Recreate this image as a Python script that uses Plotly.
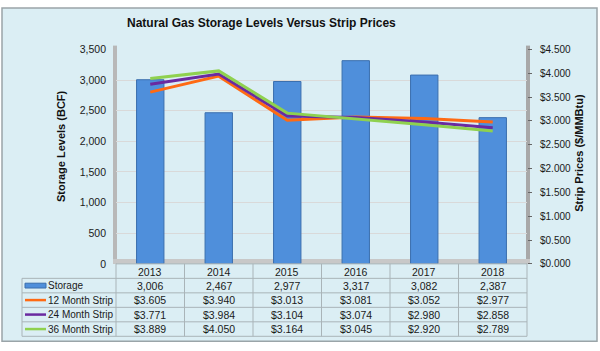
import plotly.graph_objects as go

years = ["2013", "2014", "2015", "2016", "2017", "2018"]
storage = [3006, 2467, 2977, 3317, 3082, 2387]
strip12 = [3.605, 3.940, 3.013, 3.081, 3.052, 2.977]
strip24 = [3.771, 3.984, 3.104, 3.074, 2.980, 2.858]
strip36 = [3.889, 4.050, 3.164, 3.045, 2.920, 2.789]
series_names = ["12 Month Strip", "24 Month Strip", "36 Month Strip"]
series_colors = ["#ff6a13", "#6a2aa0", "#8fd14f"]
left_ticks = [0, 500, 1000, 1500, 2000, 2500, 3000, 3500]
right_ticks = [0, 0.5, 1, 1.5, 2, 2.5, 3, 3.5, 4, 4.5]

W, H = 600, 351
BG = "#dbeef4"
GRID = "#a9b4b8"
FONT = "Liberation Sans, Arial"

def py(pix):  # pixel y from top -> paper y
    return 1 - pix / H

def px(pix):
    return pix / W

x0, x1 = 116, 527
ytop, ybot = 45, 267

fig = go.Figure()
fig.add_trace(go.Bar(
    x=years, y=storage, name="Storage", width=0.4,
    marker=dict(color="#4f8fdb", line=dict(color="#3b6fae", width=1)),
    yaxis="y"))
for vals, nm, col in zip([strip12, strip24, strip36], series_names, series_colors):
    fig.add_trace(go.Scatter(x=years, y=vals, name=nm, mode="lines",
                             line=dict(color=col, width=3), yaxis="y2"))

shapes = []
annotations = []
# outer border
shapes.append(dict(type="rect", xref="paper", yref="paper", x0=px(2), x1=px(597),
                   y0=py(347), y1=py(2), line=dict(color="#9aa4a8", width=1.5), fillcolor=BG, layer="below"))
# plot walls (3D look)
shapes.append(dict(type="rect", xref="paper", yref="paper", x0=px(x0 - 3), x1=px(x0 + 1),
                   y0=py(ybot), y1=py(ytop - 4), line=dict(width=0), fillcolor="#b8b8b8", layer="below"))
shapes.append(dict(type="rect", xref="paper", yref="paper", x0=px(x1 - 1), x1=px(x1 + 3),
                   y0=py(ybot), y1=py(ytop - 4), line=dict(width=0), fillcolor="#a8a8a8", layer="below"))
shapes.append(dict(type="rect", xref="paper", yref="paper", x0=px(x0 - 3), x1=px(x1 + 3),
                   y0=py(ybot), y1=py(ybot - 5), line=dict(width=0), fillcolor="#c8c8c8", layer="below"))

# data table
row_tops = [267, 282, 297, 312, 327, 342]
tab_left = 22
col_edges = [x0 + i * (x1 - x0) / 6 for i in range(7)]
for i, yt in enumerate(row_tops):
    lx = tab_left if i >= 1 else x0
    shapes.append(dict(type="line", xref="paper", yref="paper", x0=px(lx), x1=px(x1),
                       y0=py(yt), y1=py(yt), line=dict(color=GRID, width=1)))
for ce in col_edges:
    shapes.append(dict(type="line", xref="paper", yref="paper", x0=px(ce), x1=px(ce),
                       y0=py(267), y1=py(342), line=dict(color=GRID, width=1)))
shapes.append(dict(type="line", xref="paper", yref="paper", x0=px(tab_left), x1=px(tab_left),
                   y0=py(282), y1=py(342), line=dict(color=GRID, width=1)))

font_val = dict(family=FONT, size=10.5, color="#1a1a1a")
font_lab = dict(family=FONT, size=10, color="#1a1a1a")
for i, yr in enumerate(years):
    annotations.append(dict(x=i, xref="x", y=py(275), yref="paper", text=yr,
                            showarrow=False, font=font_val, xanchor="center", yanchor="middle"))
row_data = [[f"{v:,}" for v in storage]] + [[f"${v:.3f}" for v in s] for s in [strip12, strip24, strip36]]
row_labels = ["Storage"] + series_names
for r, (lab, vals) in enumerate(zip(row_labels, row_data)):
    yc = (row_tops[r + 1] + row_tops[r + 2]) / 2
    for i, t in enumerate(vals):
        annotations.append(dict(x=i, xref="x", y=py(yc), yref="paper", text=t,
                                showarrow=False, font=font_val, xanchor="center", yanchor="middle"))
    annotations.append(dict(x=px(46), xref="paper", y=py(yc), yref="paper", text=lab,
                            showarrow=False, font=font_lab, xanchor="left", yanchor="middle"))
    if r == 0:
        shapes.append(dict(type="rect", xref="paper", yref="paper", x0=px(25), x1=px(46),
                           y0=py(yc + 2.5), y1=py(yc - 2.5), fillcolor="#4f8fdb",
                           line=dict(color="#3b6fae", width=1)))
    else:
        shapes.append(dict(type="line", xref="paper", yref="paper", x0=px(25), x1=px(46),
                           y0=py(yc), y1=py(yc), line=dict(color=series_colors[r - 1], width=2.5)))

# titles
annotations.append(dict(x=px(261), y=py(18), xref="paper", yref="paper", text="<b>Natural Gas Storage Levels Versus Strip Prices</b>",
                        showarrow=False, font=dict(family=FONT, size=12, color="#111"),
                        xanchor="center", yanchor="middle"))
annotations.append(dict(x=px(61), y=py(145), xref="paper", yref="paper", text="<b>Storage Levels (BCF)</b>",
                        showarrow=False, textangle=-90, font=dict(family=FONT, size=11, color="#111"),
                        xanchor="center", yanchor="middle"))
annotations.append(dict(x=px(579), y=py(152), xref="paper", yref="paper", text="<b>Strip Prices ($/MMBtu)</b>",
                        showarrow=False, textangle=-90, font=dict(family=FONT, size=11, color="#111"),
                        xanchor="center", yanchor="middle"))

fig.update_layout(
    width=W, height=H, margin=dict(l=0, r=0, t=0, b=0),
    paper_bgcolor="white", plot_bgcolor="white", showlegend=False,
    shapes=shapes, annotations=annotations,
    xaxis=dict(type="category", domain=[px(x0), px(x1)], showticklabels=False, ticks="", showgrid=False,
               zeroline=False, showline=False, range=[-0.5, 5.5], categoryorder="array", categoryarray=years),
    yaxis=dict(domain=[py(ybot), py(ytop)], range=[0, 3500], tickvals=left_ticks,
               ticktext=[f"{v:,}" for v in left_ticks], showgrid=True, gridcolor="#d9d9d9", gridwidth=1,
               zeroline=False, showline=False, ticks="", ticklabelstandoff=9,
               tickfont=dict(family=FONT, size=10.5, color="#1a1a1a")),
    yaxis2=dict(overlaying="y", side="right", anchor="x", range=[0, 4.5], tickvals=right_ticks,
                ticktext=[f"${v:.3f}" for v in right_ticks], showgrid=False, zeroline=False,
                showline=False, ticks="outside", ticklen=4, tickcolor="#666",
                ticklabelstandoff=6,
                tickfont=dict(family=FONT, size=10, color="#1a1a1a")),
    bargap=0.6,
)
fig.write_html("out.html")
